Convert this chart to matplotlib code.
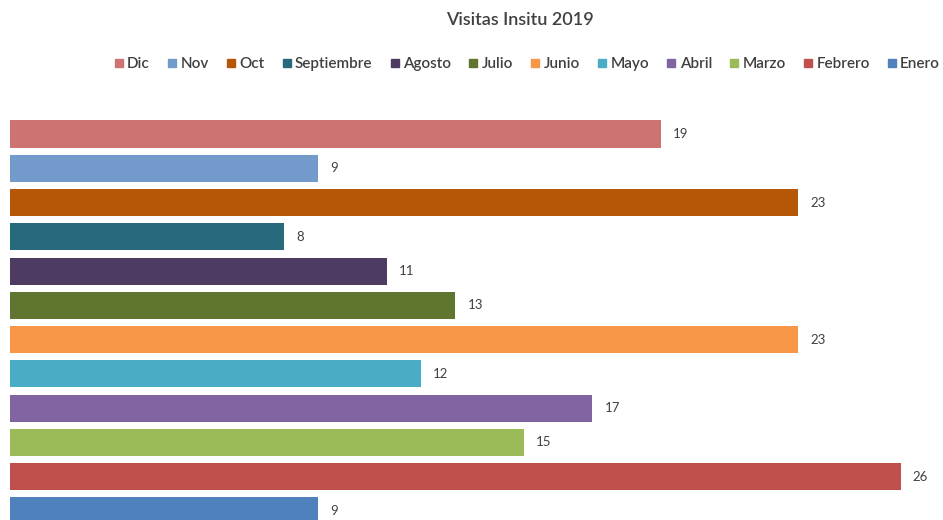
import matplotlib.pyplot as plt
from matplotlib.lines import Line2D

plt.rcParams['font.family'] = ['Lato', 'DejaVu Sans']

# months from bottom (Enero) to top (Dic)
months = ['Enero', 'Febrero', 'Marzo', 'Abril', 'Mayo', 'Junio',
          'Julio', 'Agosto', 'Septiembre', 'Oct', 'Nov', 'Dic']
visits = [9, 26, 15, 17, 12, 23, 13, 11, 8, 23, 9, 19]
colors = ['#4F81BD', '#C0504D', '#9BBB59', '#8064A2', '#4BACC6', '#F79646',
          '#5F7530', '#4D3B62', '#276A7C', '#B65708', '#729ACA', '#CD7371']

fig = plt.figure(figsize=(9.43, 5.2), dpi=100)
ax = fig.add_axes([0.0106, -0.0156, 0.981, 0.7908])

ypos = list(range(len(months)))
ax.barh(ypos, visits, height=0.79, color=colors)
for y, v in zip(ypos, visits):
    ax.text(v + 0.35, y, str(v), va='center', ha='left', fontsize=9.5, color='#404040')

ax.set_xlim(0, 27)
ax.set_ylim(-0.5, 11.5)
ax.axis('off')

fig.text(0.551, 0.962, 'Visitas Insitu 2019', ha='center', va='center',
         fontsize=13, color='#404040', fontweight='semibold')

handles = [Line2D([], [], marker='s', linestyle='none', markersize=6,
                  color=c) for c in colors[::-1]]
fig.legend(handles, months[::-1], loc='center', bbox_to_anchor=(0.559, 0.877),
           ncol=12, frameon=False, fontsize=11,
           prop={'size': 11, 'weight': 'semibold'}, handlelength=0.6,
           handletextpad=0.25, columnspacing=1.15, labelcolor='#404040')

fig.savefig('out.png', dpi=100)
